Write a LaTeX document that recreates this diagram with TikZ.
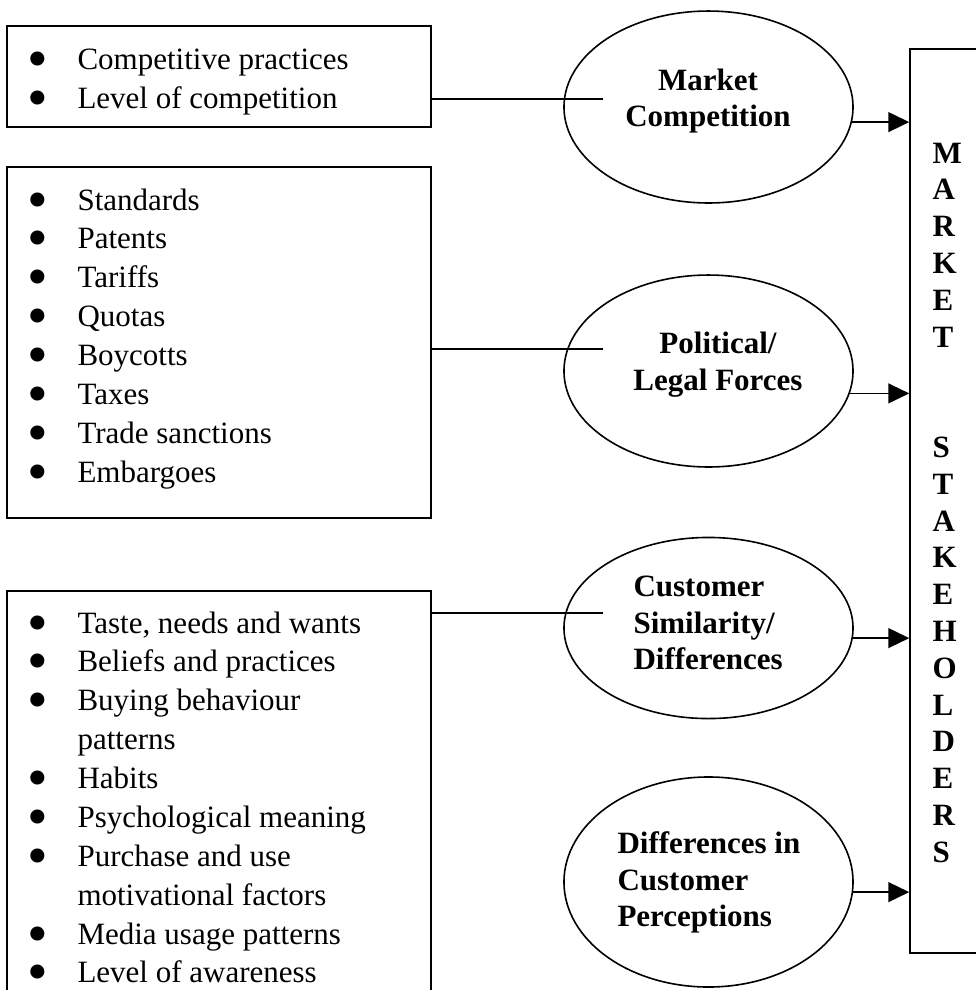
\documentclass[tikz,border=0pt]{standalone}
\usepackage{fontspec}
\usepackage{graphicx}
\setmainfont{Liberation Serif}
\usetikzlibrary{shapes.geometric,arrows.meta}

% one drawing unit
\newdimen\px \px=0.3871pt

% text helpers: stacked lines and bullet lists, baseline at the first line
\newcommand\stacklines[2][c]{\begin{tabular}[t]{@{}#1@{}}#2\end{tabular}}
\newcommand\bulletlist[1]{\begin{tabular}[t]{@{}p{48\px}@{}l@{}}#1\end{tabular}}
\newcommand\bigdot{\raisebox{-3.5pt}[0pt][0pt]{\scalebox{1.9}{\textbullet}}}
\newcommand\itm{\hspace*{-0.6pt}\bigdot &}

\tikzset{
  frame/.style={draw, rectangle, line width=0.62pt, inner sep=0pt},
  force/.style={draw, ellipse, line width=0.62pt, inner sep=0pt, minimum width=111.9pt},
  link/.style={line width=0.62pt},
  feed/.style={line width=0.62pt, -{Triangle[length=8.1pt,width=7.7pt]}},
  heading/.style={inner sep=0pt, font=\fontsize{12}{14.32}\selectfont\bfseries},
  listtext/.style={inner sep=0pt, anchor=base west, font=\fontsize{12}{15.05}\selectfont},
  letter/.style={inner sep=0pt, anchor=base west, font=\fontsize{12}{14}\selectfont\bfseries},
}

\begin{document}
\begin{tikzpicture}[x=0.3871pt, y=-0.3871pt]
\useasboundingbox (0,0) rectangle (976,990);
\clip (0,0) rectangle (976,990);

% factor boxes on the left
\node[frame, minimum width=164.1pt, minimum height=39.1pt] (b1) at (219,76.5) {};
\node[frame, minimum width=164.1pt, minimum height=135.9pt] (b2) at (219,342.5) {};
\node[frame, minimum width=164.1pt, minimum height=162.2pt] (b3) at (219,800.5) {};

\node[listtext] (l1) at (29,69.5) {\bulletlist{
  \itm Competitive practices\\
  \itm Level of competition}};
\node[listtext] (l2) at (29,210) {\bulletlist{
  \itm Standards\\
  \itm Patents\\
  \itm Tariffs\\
  \itm Quotas\\
  \itm Boycotts\\
  \itm Taxes\\
  \itm Trade sanctions\\
  \itm Embargoes}};
\node[listtext] (l3) at (29,633) {\bulletlist{
  \itm Taste, needs and wants\\
  \itm Beliefs and practices\\
  \itm Buying behaviour\\
  & patterns\\
  \itm Habits\\
  \itm Psychological meaning\\
  \itm Purchase and use\\
  & motivational factors\\
  \itm Media usage patterns\\
  \itm Level of awareness}};

% forces
\node[force, minimum height=74.3pt] (e1) at (708.5,107) {};
\node[force, minimum height=74.3pt] (e2) at (708.5,371) {};
\node[force, minimum height=70.1pt] (e3) at (708.5,628) {};
\node[force, minimum height=81.3pt] (e4) at (708.5,882) {};

\node[heading, anchor=base] (h1) at (708,90) {\stacklines{Market\\Competition}};
\node[heading, anchor=base] (h2) at (718,353) {\stacklines{Political/\\Legal Forces}};
\node[heading, anchor=base west] (h3) at (633,596) {\stacklines[l]{Customer\\Similarity/\\Differences}};
\node[heading, anchor=base west] (h4) at (617,853) {\stacklines[l]{Differences in\\Customer\\Perceptions}};

% stakeholder column
\node[frame, minimum width=38.7pt, minimum height=349.9pt] (rb) at (960,501) {};
\foreach \ch/\k in {M/0,A/1,R/2,K/3,E/4,T/5,S/8,T/9,A/10,K/11,E/12,H/13,O/14,L/15,D/16,E/17,R/18,S/19}
  \node[letter] (ch\k) at (932,163+36.8*\k) {\ch};

% connectors from the boxes into the forces
\coordinate (j1) at (603,99);
\coordinate (j2) at (603,349);
\coordinate (j3) at (603,613);
\draw[link] (j1 -| b1.east) -- (j1);
\draw[link] (j2 -| b2.east) -- (j2);
\draw[link] (j3 -| b3.east) -- (j3);

% arrows into the stakeholder column
\draw[feed] (e1.-6.41) -- (e1.-6.41 -| rb.west);
\draw[feed] (e2.-9.73) -- (e2.-9.73 -| rb.west);
\draw[feed] (e3.-4.39) -- (e3.-4.39 -| rb.west);
\draw[feed] (e4.-4.38) -- (e4.-4.38 -| rb.west);
\end{tikzpicture}
\end{document}
